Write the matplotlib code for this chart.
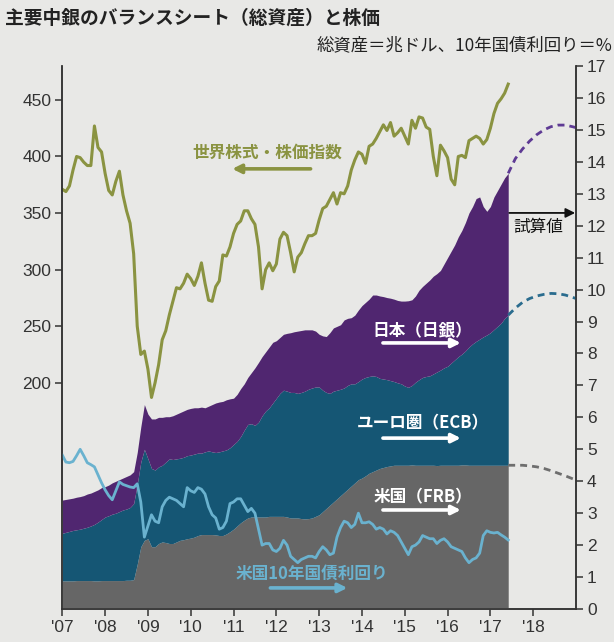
import numpy as np
import matplotlib
matplotlib.use('Agg')
import matplotlib.pyplot as plt

plt.rcParams['font.family'] = ['Noto Sans CJK JP', 'DejaVu Sans']

# monthly, Jan 2007 .. Jun 2017
n_months = 126

# stacked tops of the balance sheets (trillion USD)
frb_top = [0.88, 0.88, 0.88, 0.88, 0.89, 0.89, 0.89, 0.89, 0.89, 0.88, 0.88, 0.89,
           0.89, 0.89, 0.89, 0.89, 0.89, 0.89, 0.9, 0.9, 0.92, 1.4, 1.95, 2.15,
           2.2, 1.95, 1.95, 2.05, 2.1, 2.08, 2.05, 2.05, 2.1, 2.15, 2.17, 2.2,
           2.22, 2.25, 2.3, 2.33, 2.33, 2.33, 2.33, 2.32, 2.3, 2.3, 2.35, 2.42,
           2.5, 2.6, 2.7, 2.78, 2.85, 2.88, 2.88, 2.88, 2.88, 2.88, 2.9, 2.9,
           2.9, 2.9, 2.9, 2.88, 2.85, 2.85, 2.85, 2.83, 2.82, 2.83, 2.85, 2.9,
           2.95, 3.05, 3.15, 3.25, 3.35, 3.45, 3.55, 3.65, 3.75, 3.85, 3.95, 4.05,
           4.1, 4.17, 4.25, 4.3, 4.35, 4.4, 4.43, 4.46, 4.48, 4.5, 4.5, 4.5,
           4.5, 4.5, 4.51, 4.5, 4.5, 4.5, 4.5, 4.5, 4.5, 4.49, 4.5, 4.5,
           4.5, 4.5, 4.5, 4.5, 4.51, 4.51, 4.5, 4.5, 4.5, 4.5, 4.5, 4.5,
           4.5, 4.5, 4.5, 4.5, 4.5, 4.5]
ecb_top = [2.37, 2.4, 2.43, 2.46, 2.48, 2.5, 2.53, 2.56, 2.6, 2.65, 2.72, 2.8,
           2.88, 2.92, 2.97, 3.0, 3.05, 3.1, 3.13, 3.18, 3.3, 3.9, 4.6, 5.0,
           4.7, 4.4, 4.35, 4.45, 4.5, 4.6, 4.7, 4.68, 4.7, 4.72, 4.75, 4.8,
           4.82, 4.85, 4.88, 4.88, 4.92, 4.95, 4.92, 4.9, 4.92, 4.95, 4.98, 5.05,
           5.15, 5.25, 5.4, 5.6, 5.78, 5.8, 5.75, 5.85, 6.05, 6.2, 6.3, 6.45,
           6.6, 6.75, 6.85, 6.82, 6.78, 6.78, 6.75, 6.78, 6.82, 6.88, 6.92, 6.95,
           6.95, 6.85, 6.78, 6.75, 6.82, 6.85, 6.88, 6.92, 7.0, 7.05, 7.05, 7.12,
           7.2, 7.25, 7.28, 7.3, 7.28, 7.22, 7.2, 7.18, 7.15, 7.12, 7.08, 7.05,
           6.98, 6.94, 7.0, 7.1, 7.18, 7.25, 7.28, 7.3, 7.36, 7.42, 7.48, 7.55,
           7.6, 7.7, 7.8, 7.9, 7.98, 8.08, 8.2, 8.3, 8.38, 8.45, 8.52, 8.58,
           8.65, 8.75, 8.85, 8.95, 9.1, 9.2]
boj_top = [3.41, 3.43, 3.45, 3.47, 3.5, 3.52, 3.55, 3.6, 3.63, 3.68, 3.73, 3.8,
           3.83, 3.88, 3.95, 4.0, 4.05, 4.1, 4.15, 4.2, 4.3, 4.9, 5.7, 6.4,
           6.1, 5.95, 5.95, 6.0, 6.0, 6.02, 6.02, 6.05, 6.1, 6.15, 6.2, 6.25,
           6.28, 6.3, 6.3, 6.32, 6.3, 6.35, 6.4, 6.45, 6.48, 6.5, 6.55, 6.58,
           6.6, 6.72, 6.9, 7.05, 7.25, 7.4, 7.55, 7.72, 7.9, 8.05, 8.2, 8.35,
           8.4, 8.5, 8.6, 8.63, 8.65, 8.68, 8.7, 8.72, 8.74, 8.74, 8.74, 8.7,
           8.6, 8.55, 8.53, 8.65, 8.8, 8.85, 8.9, 9.05, 9.1, 9.12, 9.2, 9.36,
           9.5, 9.6, 9.7, 9.83, 9.83, 9.8, 9.78, 9.75, 9.73, 9.7, 9.66, 9.64,
           9.64, 9.65, 9.68, 9.8, 9.98, 10.1, 10.2, 10.3, 10.42, 10.5, 10.6, 10.8,
           11.0, 11.2, 11.4, 11.65, 11.85, 12.1, 12.4, 12.6, 12.85, 12.9, 12.6, 12.45,
           12.6, 12.9, 13.1, 13.3, 13.5, 13.64]

# world equity index (left axis)
stock = [371, 369, 374, 388, 400, 399, 395, 392, 392, 427, 408, 404,
         385, 370, 366, 378, 387, 366, 352, 341, 314, 250, 225, 228,
         212, 187, 200, 216, 238, 246, 260, 272, 284, 283, 288, 296,
         292, 286, 294, 306, 288, 273, 272, 285, 290, 313, 312, 320,
         332, 340, 343, 352, 352, 345, 340, 320, 283, 300, 306, 299,
         305, 327, 333, 330, 315, 298, 311, 315, 323, 330, 330, 332,
         344, 354, 356, 362, 368, 358, 368, 367, 374, 388, 397, 404,
         402, 394, 409, 411, 416, 422, 428, 423, 430, 418, 421, 425,
         418, 411, 432, 425, 435, 434, 426, 424, 400, 383, 410, 405,
         399, 380, 375, 400, 401, 399, 414, 416, 418, 416, 411, 415,
         425, 438, 447, 451, 456, 464]

# US 10y yield (%)
ust10 = [4.82, 4.6, 4.58, 4.62, 4.8, 5.0, 4.8, 4.58, 4.52, 4.45, 4.2, 3.95,
         3.73, 3.55, 3.42, 3.7, 3.98, 3.9, 3.86, 3.82, 3.8, 3.92, 3.35, 2.25,
         2.6, 2.95, 2.75, 2.7, 3.2, 3.4, 3.5, 3.45, 3.4, 3.3, 3.2, 3.8,
         3.7, 3.65, 3.8, 3.75, 3.6, 3.2, 2.95, 2.85, 2.5, 2.55, 2.75, 3.3,
         3.35, 3.45, 3.45, 3.25, 3.05, 3.15, 3.0, 2.5, 2.0, 2.05, 2.05, 1.85,
         1.8, 1.9, 2.15, 2.0, 1.65, 1.55, 1.45, 1.55, 1.6, 1.65, 1.65, 1.6,
         1.8, 1.95, 1.85, 1.7, 1.75, 2.25, 2.55, 2.75, 2.7, 2.55, 2.65, 3.0,
         2.7, 2.7, 2.73, 2.65, 2.5, 2.55, 2.5, 2.35, 2.45, 2.4, 2.3, 2.1,
         1.9, 1.7, 1.95, 2.0, 2.1, 2.3, 2.25, 2.2, 2.2, 2.05, 2.15, 2.2,
         2.1, 1.95, 1.9, 1.85, 1.8, 1.6, 1.45, 1.55, 1.6, 1.75, 2.3, 2.45,
         2.4, 2.38, 2.4, 2.32, 2.25, 2.16]

# projections (every 2 months from Jun 2017)
proj_months = np.arange(5, 26, 2)
proj_boj = [13.64, 14.1, 14.4, 14.65, 14.85, 15.0, 15.1, 15.15, 15.15, 15.1, 15.04]
proj_ecb = [9.2, 9.42, 9.6, 9.72, 9.8, 9.85, 9.88, 9.87, 9.83, 9.76, 9.68]
proj_frb = [4.5, 4.5, 4.5, 4.48, 4.45, 4.4, 4.33, 4.25, 4.17, 4.08, 4.0]

years = list(range(2007, 2019))
year_labels = ["'%02d" % (y % 100) for y in years]

bg = '#e8e8e6'
c_frb, c_ecb, c_boj = '#666666', '#155674', '#502670'
c_stock, c_yield = '#8a9341', '#6ab2cf'

t = 2007 + np.arange(n_months) / 12
tp = 2017 + proj_months / 12

fig = plt.figure(figsize=(6.14, 6.42), dpi=100, facecolor=bg)
ax = fig.add_axes([0.1015, 0.0514, 0.8366, 0.8458], facecolor=bg)
ax2 = ax.twinx()

ax2.fill_between(t, 0, frb_top, color=c_frb, lw=0)
ax2.fill_between(t, frb_top, ecb_top, color=c_ecb, lw=0)
ax2.fill_between(t, ecb_top, boj_top, color=c_boj, lw=0)
ax2.plot(tp, proj_boj, color='#5e3a94', lw=2, ls=(0, (2.5, 1.8)))
ax2.plot(tp, proj_ecb, color='#2a6c8e', lw=2, ls=(0, (2.5, 1.8)))
ax2.plot(tp, proj_frb, color='#6e6e6e', lw=2, ls=(0, (2.5, 1.8)))
ax2.plot(t, ust10, color=c_yield, lw=2)

ax.plot(t, stock, color=c_stock, lw=2.2)

ax.set_xlim(2007, 2019)
ax.set_ylim(0, 480)
ax2.set_ylim(0, 17)

tick_font = dict(fontfamily='Liberation Sans', fontsize=12.5, color='#333333')
ax.set_xticks(years, year_labels, **tick_font)
ax.set_yticks(range(200, 451, 50), [str(v) for v in range(200, 451, 50)], **tick_font)
ax2.set_yticks(range(18), [str(v) for v in range(18)], **tick_font)
for a in (ax, ax2):
    a.tick_params(direction='out', length=5, width=1.1, color='#333333', pad=3)
    a.spines['top'].set_visible(False)
    for s in ('left', 'right', 'bottom'):
        a.spines[s].set_color('#333333')
        a.spines[s].set_linewidth(1.1)

fig.text(0.008, 1 - 18 / 642, '主要中銀のバランスシート（総資産）と株価', fontsize=13.5,
         fontweight='bold', va='center', ha='left', color='#222222')
fig.text(0.998, 1 - 45 / 642, '総資産＝兆ドル、10年国債利回り＝%', fontsize=12.5,
         va='center', ha='right', color='#222222')


def label(x, y, s, color, x0, x1, ya):
    ax2.text(x, y, s, color=color, fontsize=12, fontweight='bold', ha='center', va='center')
    ax2.annotate('', xy=(x1, ya), xytext=(x0, ya),
                 arrowprops=dict(arrowstyle='-|>', color=color, lw=2.6,
                                 mutation_scale=13, shrinkA=0, shrinkB=0))


label(2011.79, 14.28, '世界株式・株価指数', c_stock, 2012.8, 2010.97, 13.78)
label(2015.42, 8.7, '日本（日銀）', 'white', 2014.49, 2016.31, 8.33)
label(2015.42, 5.82, 'ユーロ圏（ECB）', 'white', 2014.49, 2016.31, 5.35)
label(2015.42, 3.51, '米国（FRB）', 'white', 2014.49, 2016.31, 3.1)
label(2012.82, 1.1, '米国10年国債利回り', c_yield, 2011.86, 2013.66, 0.66)

ax2.text(2018.12, 11.93, '試算値', color='#111111', fontsize=12, ha='center', va='center')
ax2.annotate('', xy=(2018.98, 12.4), xytext=(2017.44, 12.4),
             arrowprops=dict(arrowstyle='-|>', color='#111111', lw=1.3,
                             mutation_scale=14, shrinkA=0, shrinkB=0))

fig.savefig('out.png', dpi=100, facecolor=bg)
